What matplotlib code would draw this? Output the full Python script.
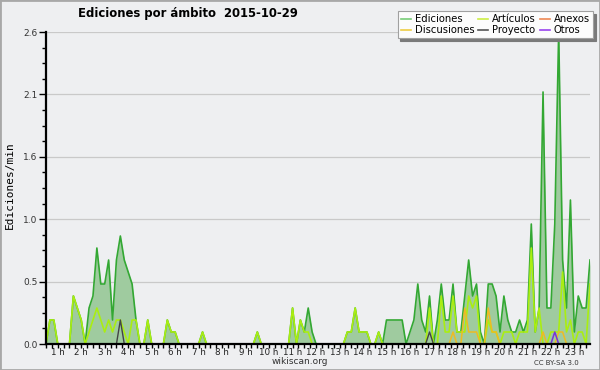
import numpy as np
import matplotlib.pyplot as plt
from matplotlib.patches import Rectangle
from matplotlib.ticker import MultipleLocator, FixedLocator

# =========================
# Data: edits per 10-minute bucket, first bucket at 00:30
# =========================
START_H = 0.5
STEP_H = 1 / 6

ediciones = [
    0, 2, 2, 0, 0, 0, 0, 4, 3, 2, 0, 3,      # 00:30
    4, 8, 5, 5, 7, 2, 7, 9, 7, 6, 5, 2,      # 02:30
    0, 0, 2, 0, 0, 0, 0, 2, 1, 1, 0, 0,      # 04:30
    0, 0, 0, 0, 1, 0, 0, 0, 0, 0, 0, 0,      # 06:30
    0, 0, 0, 0, 0, 0, 1, 0, 0, 0, 0, 0,      # 08:30
    0, 0, 0, 3, 0, 2, 1, 3, 1, 0, 0, 0,      # 10:30
    0, 0, 0, 0, 0, 1, 1, 3, 1, 1, 1, 0,      # 12:30
    0, 1, 0, 2, 2, 2, 2, 2, 0, 1, 2, 5,      # 14:30
    2, 1, 4, 0, 2, 5, 2, 2, 5, 1, 1, 4,      # 16:30
    7, 4, 5, 1, 0, 5, 5, 4, 1, 4, 2, 1,      # 18:30
    1, 2, 1, 2, 10, 1, 3, 21, 3, 3, 10, 26,  # 20:30
    7, 3, 12, 1, 4, 3, 3, 7,                 # 22:30
]

articulos = [
    0, 2, 2, 0, 0, 0, 0, 4, 3, 2, 0, 1,
    2, 3, 2, 1, 2, 1, 2, 2, 1, 0, 2, 2,
    0, 0, 2, 0, 0, 0, 0, 2, 1, 1, 0, 0,
    0, 0, 0, 0, 1, 0, 0, 0, 0, 0, 0, 0,
    0, 0, 0, 0, 0, 0, 1, 0, 0, 0, 0, 0,
    0, 0, 0, 3, 0, 2, 1, 1, 0, 0, 0, 0,
    0, 0, 0, 0, 0, 1, 1, 3, 1, 1, 1, 0,
    0, 1, 0, 0, 0, 0, 0, 0, 0, 0, 0, 0,
    0, 0, 3, 0, 0, 4, 1, 1, 4, 1, 1, 1,
    4, 3, 4, 0, 0, 2, 1, 1, 0, 1, 1, 1,
    0, 1, 1, 1, 8, 1, 3, 0, 0, 1, 1, 1,
    6, 1, 2, 0, 1, 1, 0, 5,
]

# sparse series: "HH:MM" -> edits in that bucket
discusiones = {"17:50": 1, "18:20": 3, "18:30": 1, "18:40": 1, "18:50": 1,
               "19:20": 3, "19:30": 1, "19:40": 1, "21:40": 1, "22:20": 1,
               "22:30": 1}
anexos = {}
proyecto = {"03:40": 2, "16:50": 1}
otros = {"22:10": 1}

y_ticks = [0.0, 0.52, 1.04, 1.56, 2.08, 2.6]
hour_labels = [f"{h} h" for h in range(1, 24)]

N = len(ediciones)
t = START_H + STEP_H * np.arange(N)


def expand(sparse):
    arr = np.zeros(N)
    for hhmm, v in sparse.items():
        h, m = map(int, hhmm.split(":"))
        arr[round((h * 60 + m - 30) / 10)] = v
    return arr


def per_min(counts):
    return np.asarray(counts, dtype=float) / 10.0


# =========================
# Plot
# =========================
BG = "#eeeff1"
fig = plt.figure(figsize=(6, 3.7), dpi=100, facecolor=BG)
fig.patches.append(Rectangle((0, 0), 1, 1, transform=fig.transFigure,
                             fill=False, edgecolor="#a8a8a8", lw=2))
ax = fig.add_axes([46 / 600, 26 / 370, 544 / 600, 312 / 370])
ax.set_facecolor(BG)

ed = per_min(ediciones)
ax.fill_between(t, 0, ed, color="#9fcb9f", lw=0, zorder=1)
ax.plot(t, ed, color="#33a833", lw=1.2, zorder=2)
ax.plot(t, per_min(articulos), color="#aaee11", lw=1.2, zorder=2.1)
ax.plot(t, per_min(expand(discusiones)), color="#eebb22", lw=1.1, zorder=2.2)
ax.plot(t, per_min(expand(anexos)), color="#ee7744", lw=1.1, zorder=2.2)
ax.plot(t, per_min(expand(proyecto)), color="#444444", lw=1.0, zorder=2.3)
ax.plot(t, per_min(expand(otros)), color="#7733dd", lw=1.1, zorder=2.3)

ax.set_xlim(t[0], t[-1])
ax.set_ylim(0, 2.6)

for s in ("top", "right"):
    ax.spines[s].set_visible(False)
for s in ("left", "bottom"):
    ax.spines[s].set_color("black")
    ax.spines[s].set_linewidth(1.6)
    ax.spines[s].set_zorder(5)

ax.set_yticks(y_ticks)
ax.set_yticklabels([f"{v:.1f}" for v in y_ticks])
ax.yaxis.set_minor_locator(MultipleLocator(0.13))
ax.yaxis.grid(True, color="#c9c9c9", lw=0.9)
ax.set_axisbelow(True)

ax.xaxis.set_major_locator(FixedLocator(range(1, 24)))
ax.set_xticklabels(hour_labels)
ax.xaxis.set_minor_locator(MultipleLocator(0.25))

ax.tick_params(axis="y", which="major", direction="out", length=5, width=1,
               labelsize=6.5, pad=1, labelcolor="#333333")
ax.tick_params(axis="y", which="minor", direction="out", length=3, width=1)
ax.tick_params(axis="x", which="both", direction="out", length=3, width=1,
               labelsize=6.3, pad=0, labelcolor="#222222")

fig.text(188 / 600, 1 - 14 / 370, "Ediciones por ámbito  2015-10-29",
         ha="center", va="center", fontsize=8.4, fontweight="bold")
fig.text(10 / 600, 1 - 185 / 370, "Ediciones/min", rotation=90,
         ha="center", va="center", fontsize=8, family="DejaVu Sans Mono")
fig.text(300 / 600, 1 - 362 / 370, "wikiscan.org", ha="center", va="center",
         fontsize=6.5, color="#333333")
fig.text(556 / 600, 1 - 363 / 370, "CC BY-SA 3.0", ha="center", va="center",
         fontsize=5, color="#333333")

handles = [
    plt.Line2D([], [], color="#77cc77", lw=1.2),
    plt.Line2D([], [], color="#eecc44", lw=1.2),
    plt.Line2D([], [], color="#ccee44", lw=1.2),
    plt.Line2D([], [], color="#555555", lw=1.2),
    plt.Line2D([], [], color="#ee8855", lw=1.2),
    plt.Line2D([], [], color="#9944ee", lw=1.2),
]
labels = ["Ediciones", "Discusiones", "Artículos", "Proyecto", "Anexos", "Otros"]
leg = fig.legend(handles, labels, ncol=3, loc="upper right",
                 bbox_to_anchor=(593 / 600, 1 - 11 / 370),
                 bbox_transform=fig.transFigure, fontsize=7.2,
                 frameon=True, fancybox=False, shadow={"color": "#7a7a7a", "alpha": 1},
                 handlelength=1.0, handletextpad=0.4, columnspacing=0.4,
                 labelspacing=0.12, borderpad=0.3, borderaxespad=0)
leg.get_frame().set_facecolor("#fcfcfc")
leg.get_frame().set_edgecolor("#a0a0a0")
leg.get_frame().set_linewidth(0.8)

fig.savefig("out.png", dpi=100, facecolor=BG)
